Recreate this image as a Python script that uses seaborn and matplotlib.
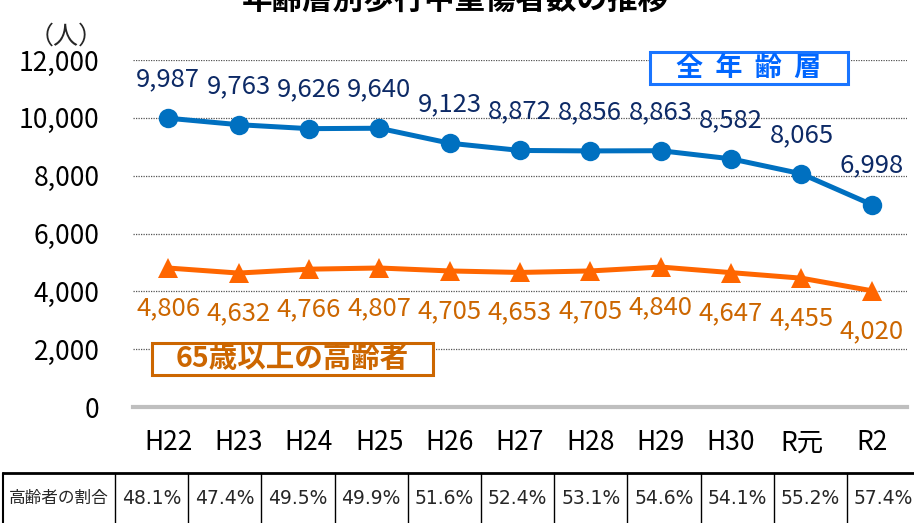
import pandas as pd
import seaborn as sns
import matplotlib.pyplot as plt
import matplotlib.font_manager as fm
from matplotlib.patches import Rectangle
from matplotlib.lines import Line2D

# --- data ---
years = ["H22", "H23", "H24", "H25", "H26", "H27", "H28", "H29", "H30", "R元", "R2"]
all_ages = [9987, 9763, 9626, 9640, 9123, 8872, 8856, 8863, 8582, 8065, 6998]
elderly = [4806, 4632, 4766, 4807, 4705, 4653, 4705, 4840, 4647, 4455, 4020]
elderly_share = ["48.1%", "47.4%", "49.5%", "49.9%", "51.6%", "52.4%",
                 "53.1%", "54.6%", "54.1%", "55.2%", "57.4%"]
table_head = "高齢者の割合"
title = "年齢層別歩行中重傷者数の推移"

BLUE = "#0070C0"
BLUE_TXT = "#0D2A66"
ORANGE = "#FF6600"
ORANGE_TXT = "#CC6600"

sns.set_theme(style="white")
plt.rcParams['font.family'] = ['Noto Sans CJK JP', 'DejaVu Sans']

# narrow font for the percentage row, if there is one
narrow = "DejaVu Sans"
for name in ["Liberation Sans Narrow", "Arial Narrow"]:
    try:
        fm.findfont(name, fallback_to_default=False)
        narrow = name
        break
    except Exception:
        pass

df = pd.DataFrame({"year": years, "all": all_ages, "old": elderly})

W, H = 914, 523
fig = plt.figure(figsize=(W / 100, H / 100), dpi=100)
ax = fig.add_axes([133 / W, (H - 407) / H, 774 / W, 347 / H])

sns.lineplot(data=df, x="year", y="all", ax=ax, color=BLUE, lw=3.6,
             marker="o", markersize=14, markeredgewidth=0, sort=False)
sns.lineplot(data=df, x="year", y="old", ax=ax, color=ORANGE, lw=3.6,
             marker="^", markersize=15, markeredgewidth=0, sort=False)

ax.set_xlim(-0.5, len(years) - 0.5)
ax.set_ylim(0, 12000)
ax.set_yticks(range(0, 12001, 2000))
ax.set_yticklabels([f"{v:,}" for v in range(0, 12001, 2000)], fontsize=19)
ax.set_xticks(range(len(years)))
ax.set_xticklabels(years, fontsize=19)
ax.tick_params(axis="y", length=0, pad=24, colors="black")
ax.tick_params(axis="x", length=0, pad=16, colors="black")
ax.set_xlabel("")
ax.set_ylabel("")
for v in range(2000, 12001, 2000):
    ax.axhline(v, color="#555555", lw=0.9, ls=(0, (1, 1)), zorder=0)
for s in ["top", "right", "left"]:
    ax.spines[s].set_visible(False)
ax.spines["bottom"].set_color("#BFBFBF")
ax.spines["bottom"].set_linewidth(3)

for i, v in enumerate(all_ages):
    ax.annotate(f"{v:,}", (i, v), xytext=(0, 28), textcoords="offset points",
                ha="center", va="center", fontsize=18.5, color=BLUE_TXT)
for i, v in enumerate(elderly):
    ax.annotate(f"{v:,}", (i, v), xytext=(0, -29), textcoords="offset points",
                ha="center", va="center", fontsize=18.5, color=ORANGE_TXT)

# legend-like labels
fig.add_artist(Rectangle((650 / W, (H - 84) / H), 198 / W, 32 / H, transform=fig.transFigure,
                         facecolor="white", edgecolor="#1A75FF", lw=2.2))
fig.text(749 / W, (H - 68) / H, "全  年  齢  層", ha="center", va="center",
         fontsize=19.5, fontweight="bold", color="#0066FF")
fig.add_artist(Rectangle((152 / W, (H - 375) / H), 281 / W, 32 / H, transform=fig.transFigure,
                         facecolor="white", edgecolor="#CC6600", lw=2.2))
fig.text(292 / W, (H - 359) / H, "65歳以上の高齢者", ha="center", va="center",
         fontsize=20.5, fontweight="bold", color="#CC6600")

# titles (top is cut off in the original too)
fig.text(455 / W, 1 - 9 / H, title, ha="center", va="baseline",
         fontsize=22, fontweight="bold", color="black")
fig.text(66 / W, (H - 37) / H, "（人）", ha="center", va="center", fontsize=18)

# table below
top = (H - 473) / H
fig.add_artist(Line2D([3 / W, 1], [top, top], transform=fig.transFigure, color="black", lw=2))
fig.add_artist(Line2D([3 / W, 3 / W], [0, top], transform=fig.transFigure, color="black", lw=1.5))
col0, colw = 115, 73.2
for i in range(len(years) + 1):
    xe = (col0 + colw * i) / W
    fig.add_artist(Line2D([xe, xe], [0, top], transform=fig.transFigure, color="black", lw=1))
ty = (H - 498) / H
fig.text((3 + col0) / 2 / W, ty, table_head, ha="center", va="center", fontsize=12)
for i, s in enumerate(elderly_share):
    fig.text((col0 + colw * (i + 0.5)) / W, ty, s, ha="center", va="center",
             fontsize=15 if narrow != "DejaVu Sans" else 13.5, family=narrow)

fig.savefig("out.png", dpi=100)
